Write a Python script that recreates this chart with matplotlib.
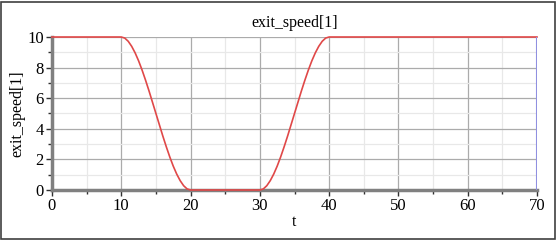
import matplotlib.pyplot as plt
from matplotlib.ticker import MultipleLocator
from matplotlib.patches import Rectangle

# valores (t, exit_speed[1])
t = [0, 10, 10.5, 11, 11.5, 12, 12.5, 13, 13.5, 14, 14.5, 15, 15.5, 16, 16.5, 17,
     17.5, 18, 18.5, 19, 19.5, 20, 30, 30.5, 31, 31.5, 32, 32.5, 33, 33.5, 34, 34.5,
     35, 35.5, 36, 36.5, 37, 37.5, 38, 38.5, 39, 39.5, 40, 70]
speed = [10, 10, 9.93, 9.72, 9.39, 8.96, 8.44, 7.84, 7.18, 6.48, 5.74, 5.0, 4.26,
         3.52, 2.82, 2.16, 1.56, 1.04, 0.61, 0.28, 0.07, 0, 0, 0.07, 0.28, 0.61,
         1.04, 1.56, 2.16, 2.82, 3.52, 4.26, 5.0, 5.74, 6.48, 7.18, 7.84, 8.44,
         8.96, 9.39, 9.72, 9.93, 10, 10]

plt.rcParams['font.family'] = ['Liberation Serif', 'DejaVu Serif']

fig = plt.figure(figsize=(5.58, 2.43), dpi=100)
ax = fig.add_axes([52 / 558, 1 - 190 / 243, 485 / 558, 153 / 243])

ax.plot(t, speed, color='#e04848', lw=1.2, zorder=3, clip_on=False)
ax.axvline(70, color='#9090e0', lw=1.5, zorder=4)

ax.set_xlim(0, 70)
ax.set_ylim(0, 10)
ax.xaxis.set_major_locator(MultipleLocator(10))
ax.xaxis.set_minor_locator(MultipleLocator(5))
ax.yaxis.set_major_locator(MultipleLocator(2))
ax.yaxis.set_minor_locator(MultipleLocator(1))

ax.grid(which='major', color='#ababab', lw=0.9)
ax.grid(which='minor', color='#e8e8e8', lw=0.9)
ax.set_axisbelow(True)

for s in ['top', 'right']:
    ax.spines[s].set_visible(False)
for s in ['left', 'bottom']:
    ax.spines[s].set_color('#808080')
    ax.spines[s].set_linewidth(2.5)

ax.tick_params(which='major', length=4, width=1, color='#303030', labelsize=12, pad=2)
ax.tick_params(which='minor', length=3, width=1, color='#303030')

ax.set_title('exit_speed[1]', fontsize=11.5, pad=7)
ax.set_xlabel('t', fontsize=11.5, labelpad=0)
ax.set_ylabel('exit_speed[1]', fontsize=11.5, labelpad=1)

# moldura externa
fig.patches.append(Rectangle((1 / 558, 4 / 243), 554 / 558, 237 / 243,
                             transform=fig.transFigure, fill=False,
                             edgecolor='#404040', lw=1.2))

fig.savefig('out.png', dpi=100)
